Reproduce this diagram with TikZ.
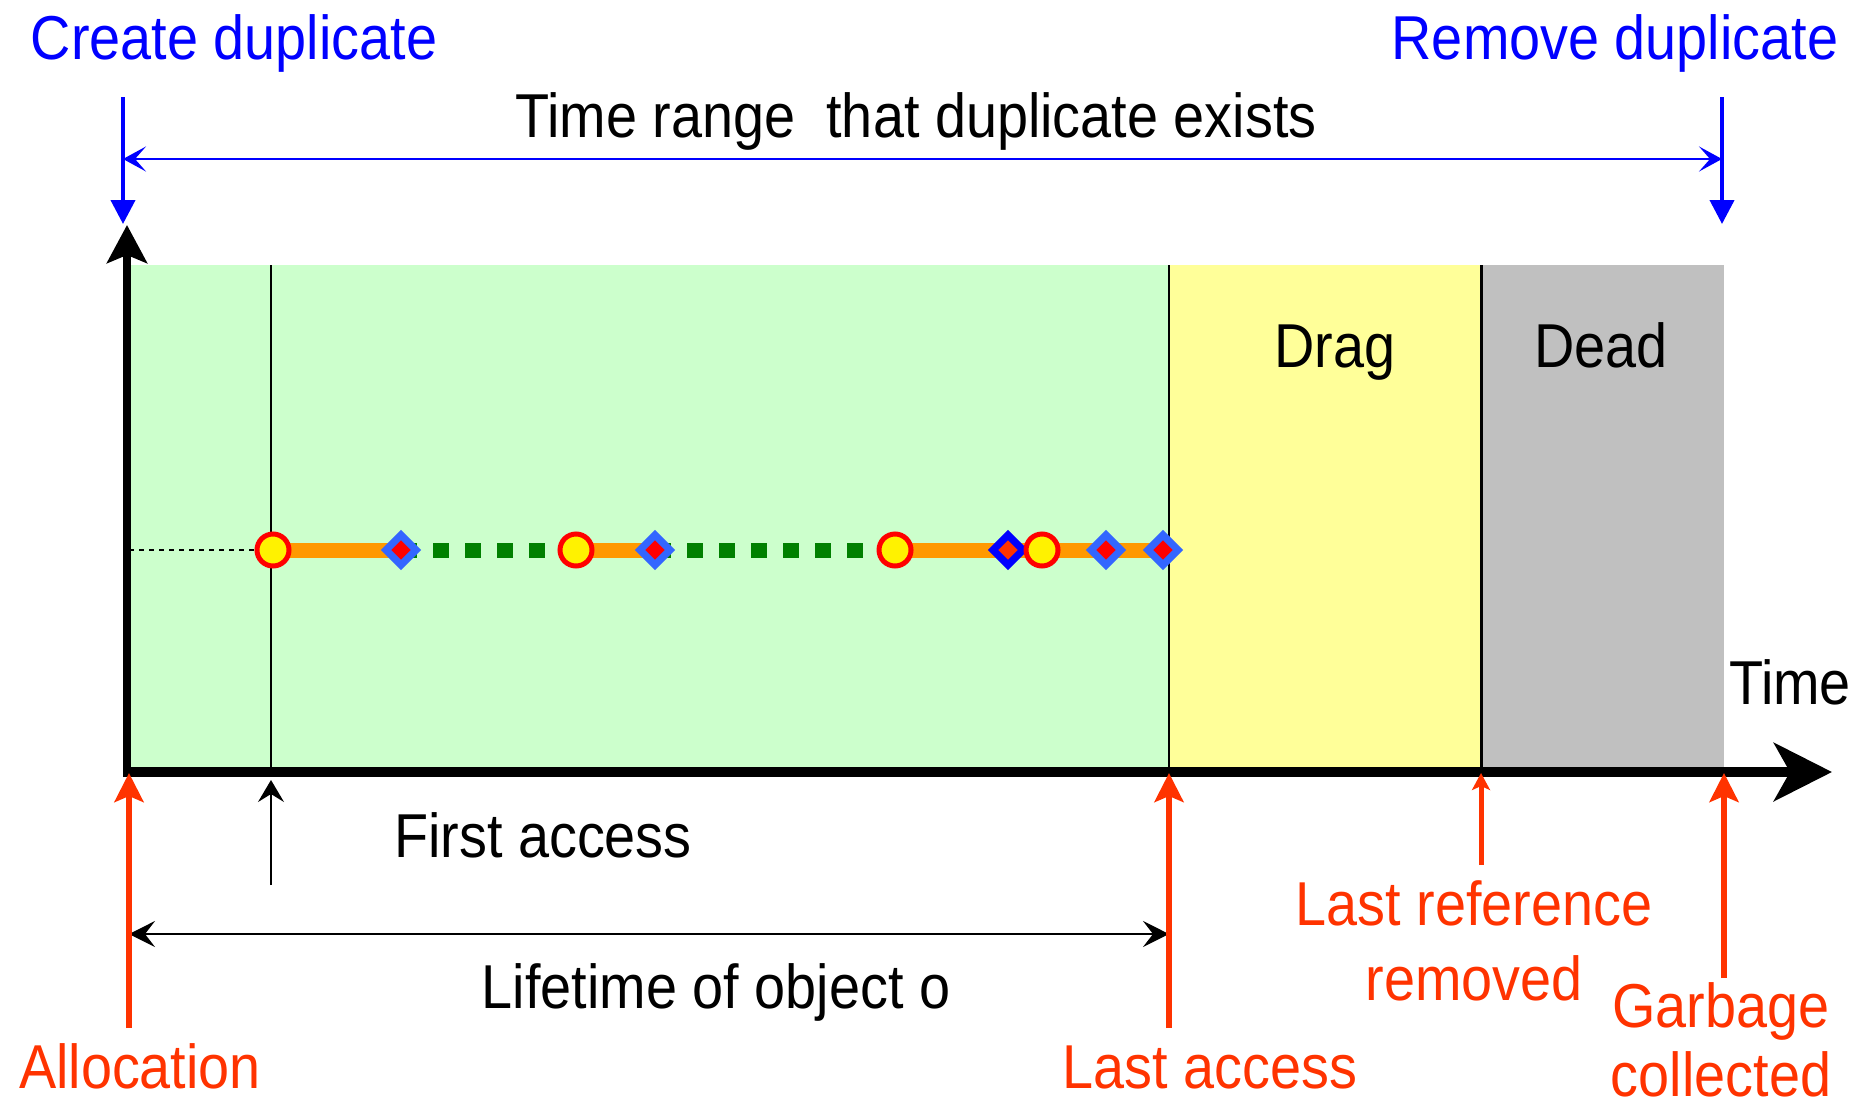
\documentclass[tikz,border=0pt]{standalone}
\usepackage{fontspec}
\setmainfont{Liberation Sans}[FakeStretch=0.9]
\usetikzlibrary{arrows.meta,shapes.geometric}
\definecolor{cgreen}{HTML}{CCFFCC}
\definecolor{cyellow}{HTML}{FFFF99}
\definecolor{cgray}{HTML}{C0C0C0}
\definecolor{cblue}{HTML}{0000FF}
\definecolor{cred}{HTML}{FF3300}
\definecolor{corange}{HTML}{FF9900}
\definecolor{cdot}{HTML}{008000}
\definecolor{cdia}{HTML}{3366FF}
\newcommand\lblfont{\fontsize{31}{37}\selectfont}
\tikzset{
  lbl/.style={font=\lblfont, inner sep=0pt, anchor=base},
  bluelbl/.style={lbl, text=cblue},
  redlbl/.style={lbl, text=cred},
  bluedown/.style={draw=cblue, line width=2pt, -{Triangle[length=12pt,width=12pt]}},
  bluerange/.style={draw=cblue, line width=1.2pt, {Stealth[length=11.5pt,width=12.5pt,inset=5.5pt]}-{Stealth[length=11.5pt,width=12.5pt,inset=5.5pt]}},
  redarrow/.style={draw=cred, line width=3pt, -{Stealth[length=14.5pt,width=14.5pt,inset=3pt]}},
  smallred/.style={draw=cred, line width=2.5pt, -{Stealth[length=8.5pt,width=9pt,inset=2pt]}},
  thinarrow/.style={draw=black, line width=0.75pt, -{Stealth[length=11pt,width=13pt,inset=4pt]}},
  lifearrow/.style={draw=black, line width=0.75pt, {Stealth[length=13pt,width=13pt,inset=5pt]}-{Stealth[length=13pt,width=13pt,inset=5pt]}},
  thinline/.style={draw=black, line width=0.75pt},
  orangeseg/.style={draw=corange, line width=7.5pt},
  greenseg/.style={draw=cdot, line width=7.5pt, dash pattern=on 8pt off 8pt},
  circmark/.style={circle, draw=red, fill=yellow, line width=2.5pt, minimum size=16pt, inner sep=0pt},
  diamark/.style={diamond, draw=cdia, fill=red, line width=3.6pt, minimum size=16.5pt, inner sep=0pt},
  darkdiamark/.style={diamond, draw=cblue, fill=cred, line width=3.6pt, minimum size=16.5pt, inner sep=0pt},
}
\begin{document}
\begin{tikzpicture}[x=0.5pt,y=-0.5pt]
\useasboundingbox (0,0) rectangle (1871,1108);

% regions
\fill[cgreen] (127,265) rectangle (1169,767);
\fill[cyellow] (1169,265) rectangle (1481,767);
\fill[cgray] (1481,265) rectangle (1724,767);
\coordinate (faTop) at (271,265);
\coordinate (faBot) at (271,767);
\coordinate (laTop) at (1169,265);
\coordinate (laBot) at (1169,767);
\coordinate (lrTop) at (1481,265);
\coordinate (lrBot) at (1481,767);
\draw[thinline] (faTop) -- (faBot);
\draw[thinline] (laTop) -- (laBot);
\draw[draw=black, line width=1.5pt] (lrTop) -- (lrBot);

% axes
\coordinate (origin) at (123,772);
\coordinate (xtip) at (1832,772);
\coordinate (ybot) at (127,777);
\coordinate (ytip) at (127,225);
\draw[line width=5pt, -{Stealth[length=29pt,width=29pt,inset=8pt]}] (origin) -- (xtip);
\draw[line width=4pt, -{Stealth[length=19pt,width=20pt,inset=4pt]}] (ybot) -- (ytip);

% top blue
\node[bluelbl] (create) at (234,59) {Create duplicate};
\node[bluelbl] (remove) at (1615,59) {Remove duplicate};
\node[lbl] (range) at (916,137) {Time range\ \ that duplicate exists};
\coordinate (cdTop) at (123,97);
\coordinate (cdTip) at (123,224);
\coordinate (rdTop) at (1722,97);
\coordinate (rdTip) at (1722,224);
\draw[bluedown] (cdTop) -- (cdTip);
\draw[bluedown] (rdTop) -- (rdTip);
\coordinate (rgL) at (123,159);
\coordinate (rgR) at (1722,159);
\draw[bluerange] (rgL) -- (rgR);

% region labels
\node[lbl] (drag) at (1335,367) {Drag};
\node[lbl] (dead) at (1601,367) {Dead};
\node[lbl] (time) at (1790,704) {Time};

% access line
\coordinate (p0) at (129,550);
\coordinate (p1) at (273,550);
\coordinate (q1) at (401,550);
\coordinate (p2) at (576,550);
\coordinate (q2) at (655,550);
\coordinate (p3) at (895,550);
\coordinate (q3) at (1008,550);
\coordinate (p4) at (1042,550);
\coordinate (q4) at (1106,550);
\coordinate (q5) at (1163,550);
\draw[black, line width=0.6pt, dash pattern=on 2.5pt off 2.5pt] (p0) -- (p1);
\draw[orangeseg] (p1) -- (q1);
\draw[orangeseg] (p2) -- (q2);
\draw[orangeseg] (p3) -- (q5);
\draw[greenseg] (q1) -- (p2);
\draw[greenseg] (q2) -- (p3);
\node[diamark] (d1) at (q1) {};
\node[diamark] (d2) at (q2) {};
\node[darkdiamark] (d3) at (q3) {};
\node[diamark] (d4) at (q4) {};
\node[diamark] (d5) at (q5) {};
\node[circmark] (c1) at (p1) {};
\node[circmark] (c2) at (p2) {};
\node[circmark] (c3) at (p3) {};
\node[circmark] (c4) at (p4) {};

% bottom arrows
\coordinate (faA) at (271,885);
\coordinate (faT) at (271,780);
\draw[thinarrow] (faA) -- (faT);
\node[lbl] (first) at (543,857) {First access};

\coordinate (lfL) at (129,934);
\coordinate (lfR) at (1169,934);
\draw[lifearrow] (lfL) -- (lfR);
\node[lbl] (life) at (716,1008) {Lifetime of object o};

\coordinate (alB) at (129,1028);
\coordinate (alT) at (129,773);
\draw[redarrow] (alB) -- (alT);
\node[redlbl] (alloc) at (140,1088) {Allocation};

\coordinate (lacB) at (1169,1028);
\coordinate (lacT) at (1169,773);
\draw[redarrow] (lacB) -- (lacT);
\node[redlbl] (lastacc) at (1210,1088) {Last access};

\coordinate (lrfB) at (1481,865);
\coordinate (lrfT) at (1481,773);
\draw[smallred] (lrfB) -- (lrfT);
\node[redlbl] (lastref1) at (1474,925) {Last reference};
\node[redlbl] (lastref2) at (1474,1000) {removed};

\coordinate (gcB) at (1724,978);
\coordinate (gcT) at (1724,773);
\draw[redarrow] (gcB) -- (gcT);
\node[redlbl] (gc1) at (1721,1027) {Garbage};
\node[redlbl] (gc2) at (1721,1096) {collected};
\end{tikzpicture}
\end{document}
